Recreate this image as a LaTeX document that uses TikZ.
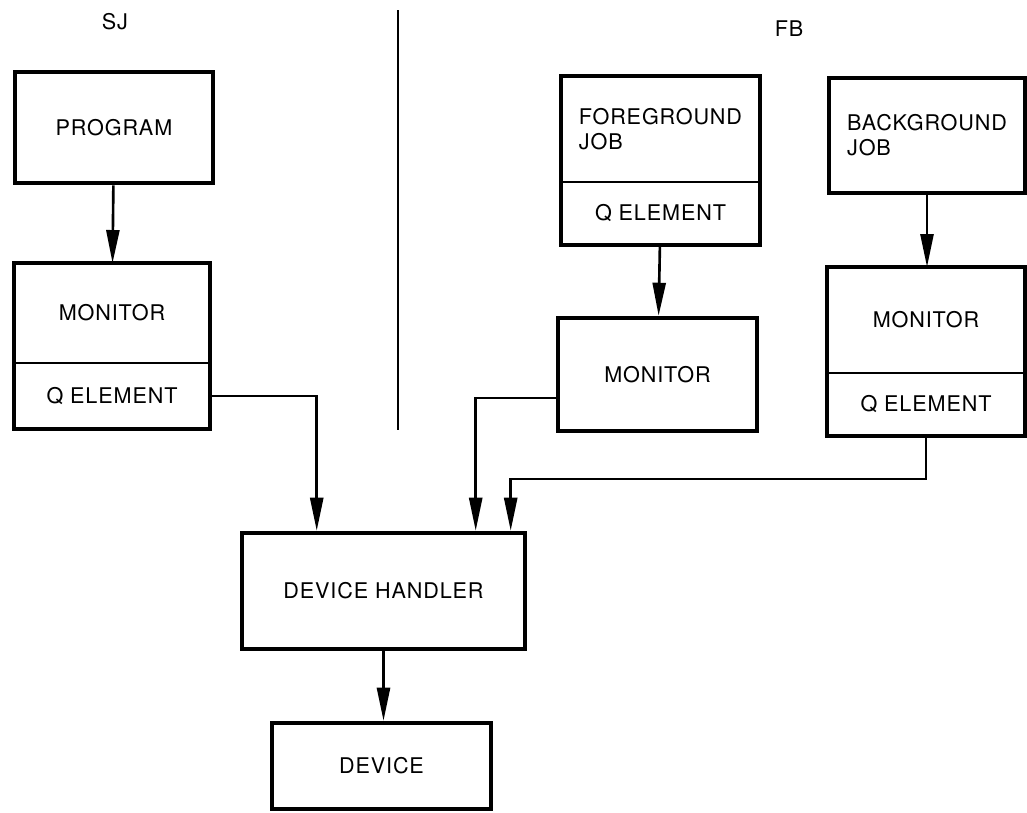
\documentclass[tikz,border=0pt]{standalone}
\usepackage{fontspec}
\setmainfont{TeX Gyre Heros}[LetterSpace=4]
\usetikzlibrary{arrows.meta}

\begin{document}
\begin{tikzpicture}
  [x=0.02cm,y=-0.02cm,
   every node/.style={font=\fontsize{12.3}{14.2}\selectfont,inner sep=0pt},
   box/.style={draw,line width=2.6pt},
   part/.style={draw,line width=1.5pt,outer sep=0pt},
   outline/.style={line width=2.6pt},
   conn/.style={line width=1.5pt,-{Triangle[length=0.66cm,width=0.26cm]}}]
  \useasboundingbox (0,0) rectangle (1027,812);

  % headings and the dividing line
  \node (sj) at (115,22) {SJ};
  \node (fb) at (789,29) {FB};
  \draw[line width=1.4pt] (398,10) -- (398,430);

  % SJ side
  \node[box,minimum width=3.96cm,minimum height=2.22cm] (prog) at (114,127.5) {PROGRAM};
  \node[part,minimum width=3.92cm,minimum height=2cm] (sjmon) at (112,313) {MONITOR};
  \node[part,minimum width=3.92cm,minimum height=1.32cm] (sjq) at (112,396) {Q ELEMENT};
  \draw[outline] (sjmon.north west) rectangle (sjq.south east);

  % FB side
  \node[part,minimum width=3.98cm,minimum height=2.12cm,align=left] (fgjob) at (660.5,129) {FOREGROUND\\JOB};
  \node[part,minimum width=3.98cm,minimum height=1.26cm] (fgq) at (660.5,213.5) {Q ELEMENT};
  \draw[outline] (fgjob.north west) rectangle (fgq.south east);
  \node[box,minimum width=3.98cm,minimum height=2.26cm] (fbmon) at (657.5,374.5) {MONITOR};

  \node[box,minimum width=3.92cm,minimum height=2.3cm,align=left] (bgjob) at (927,135.5) {BACKGROUND\\JOB};
  \node[part,minimum width=3.96cm,minimum height=2.12cm] (bgmon) at (926,320) {MONITOR};
  \node[part,minimum width=3.96cm,minimum height=1.26cm] (bgq) at (926,404.5) {Q ELEMENT};
  \draw[outline] (bgmon.north west) rectangle (bgq.south east);

  % shared part
  \node[box,minimum width=5.66cm,minimum height=2.32cm] (dh) at (383.5,591) {DEVICE HANDLER};
  \node[box,minimum width=4.38cm,minimum height=1.72cm] (dev) at (381.5,766) {DEVICE};

  % connectors
  \draw[conn] (prog) -- (sjmon);
  \draw[conn] (fgq) -- (fbmon);
  \draw[conn] (bgjob.south) -- (bgjob.south |- bgmon.north);
  \draw[conn] (sjq.east) -| ([xshift=1.54cm]dh.north west);
  \draw[conn] ([yshift=-0.47cm]fbmon.west) -| ([xshift=4.72cm]dh.north west);
  \draw[conn] (bgq.south) -- ++(0,43) -| ([xshift=5.42cm]dh.north west);
  \draw[conn] (dh.south) -- (dh.south |- dev.north);

\end{tikzpicture}
\end{document}
